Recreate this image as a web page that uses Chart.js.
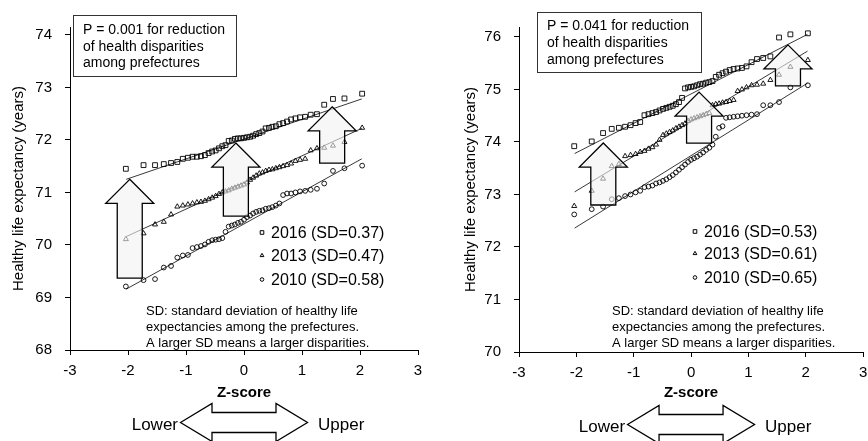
<!DOCTYPE html>
<html>
<head>
<meta charset="utf-8">
<script src="https://cdn.jsdelivr.net/npm/chart.js@4.4.1/dist/chart.umd.min.js"></script>
<style>
  html, body { margin: 0; padding: 0; background: #fff; }
  #wrap { position: relative; width: 868px; height: 441px; overflow: hidden; }
  .panel { position: absolute; top: 0; width: 434px; height: 441px; }
</style>
</head>
<body>
<div id="wrap">
  <div class="panel" style="left:0"><canvas id="left" width="434" height="441"></canvas></div>
  <div class="panel" style="left:434px"><canvas id="right" width="434" height="441"></canvas></div>
</div>
<script>
// normal quantile of each prefecture's rank (47 prefectures)
const zScores = [-2.037, -1.732, -1.534, -1.383, -1.258, -1.150, -1.055, -0.967, -0.887, -0.812,
  -0.742, -0.674, -0.610, -0.549, -0.489, -0.431, -0.374, -0.319, -0.264, -0.210, -0.157, -0.105,
  -0.052, 0, 0.052, 0.105, 0.157, 0.210, 0.264, 0.319, 0.374, 0.431, 0.489, 0.549, 0.610, 0.674,
  0.742, 0.812, 0.887, 0.967, 1.055, 1.150, 1.258, 1.383, 1.534, 1.732, 2.037];

const years = ['2016', '2013', '2010'];
const leftSD = ['0.37', '0.47', '0.58'];
const rightSD = ['0.53', '0.61', '0.65'];

// left panel: healthy life expectancy (years)
const left2016 = [71.45, 71.52, 71.52, 71.54, 71.56, 71.58, 71.64, 71.66, 71.68, 71.68, 71.69, 71.71,
  71.75, 71.78, 71.80, 71.84, 71.88, 71.90, 71.98, 71.99, 72.02, 72.03, 72.03, 72.04, 72.05, 72.06,
  72.08, 72.11, 72.13, 72.16, 72.22, 72.23, 72.25, 72.26, 72.30, 72.32, 72.35, 72.39, 72.41, 72.43,
  72.44, 72.48, 72.49, 72.67, 72.78, 72.79, 72.88];
const left2013 = [70.11, 70.22, 70.39, 70.44, 70.58, 70.73, 70.75, 70.77, 70.79, 70.81, 70.82, 70.84,
  70.87, 70.90, 70.93, 70.97, 71.00, 71.02, 71.04, 71.07, 71.09, 71.11, 71.13, 71.15, 71.19, 71.24,
  71.28, 71.32, 71.36, 71.38, 71.41, 71.43, 71.44, 71.46, 71.48, 71.50, 71.52, 71.55, 71.60, 71.62,
  71.64, 71.80, 71.84, 71.85, 71.89, 71.96, 72.23];
const left2010 = [69.21, 69.33, 69.35, 69.57, 69.60, 69.76, 69.80, 69.81, 69.94, 69.96, 69.98, 70.01,
  70.06, 70.09, 70.10, 70.11, 70.13, 70.25, 70.35, 70.37, 70.39, 70.42, 70.44, 70.48, 70.53, 70.56,
  70.60, 70.63, 70.65, 70.66, 70.69, 70.70, 70.72, 70.75, 70.79, 70.95, 70.98, 70.98, 71.00, 71.02,
  71.03, 71.05, 71.07, 71.17, 71.41, 71.46, 71.51];

// right panel
const right2016 = [73.92, 74.01, 74.17, 74.25, 74.27, 74.29, 74.32, 74.36, 74.38, 74.51, 74.53, 74.55,
  74.57, 74.60, 74.63, 74.65, 74.67, 74.69, 74.72, 74.76, 74.84, 75.02, 75.04, 75.05, 75.06, 75.08,
  75.10, 75.11, 75.13, 75.14, 75.16, 75.24, 75.28, 75.31, 75.34, 75.37, 75.39, 75.40, 75.41, 75.44,
  75.52, 75.58, 75.60, 75.63, 75.99, 76.05, 76.07];
const right2013 = [72.78, 73.07, 73.30, 73.54, 73.58, 73.73, 73.75, 73.77, 73.81, 73.83, 73.87, 73.90,
  73.95, 74.04, 74.13, 74.16, 74.19, 74.22, 74.26, 74.29, 74.32, 74.35, 74.40, 74.43, 74.45, 74.47,
  74.49, 74.51, 74.53, 74.55, 74.70, 74.72, 74.73, 74.75, 74.76, 74.78, 74.80, 74.97, 75.00, 75.04,
  75.08, 75.09, 75.11, 75.18, 75.28, 75.43, 75.56];
const right2010 = [72.62, 72.72, 72.77, 72.91, 72.93, 72.97, 73.00, 73.04, 73.07, 73.14, 73.15, 73.17,
  73.21, 73.23, 73.26, 73.29, 73.33, 73.37, 73.42, 73.47, 73.52, 73.57, 73.62, 73.66, 73.69, 73.72,
  73.76, 73.80, 73.85, 73.89, 73.95, 74.10, 74.27, 74.30, 74.46, 74.47, 74.48, 74.49, 74.50, 74.51,
  74.52, 74.53, 74.70, 74.70, 74.76, 75.04, 75.08];

// linear trend lines (values at both ends)
const fitEnds = [-2.03, 2.03];
const leftFit2016 = [71.25, 72.78];
const leftFit2013 = [70.16, 72.22];
const leftFit2010 = [69.16, 71.64];
const rightFit2016 = [73.78, 76.05];
const rightFit2013 = [73.05, 75.73];
const rightFit2010 = [72.36, 75.12];

// block arrows (z position, from, to)
const leftArrowZ = [-1.97, -0.14, 1.52];
const leftArrowFrom = [69.37, 70.55, 71.56];
const leftArrowTo = [71.25, 71.94, 72.63];
const rightArrowZ = [-1.53, 0.14, 1.69];
const rightArrowFrom = [72.80, 73.98, 75.07];
const rightArrowTo = [73.98, 74.95, 75.85];

const xTicks = [-3, -2, -1, 0, 1, 2, 3];
const leftYTicks = [68, 69, 70, 71, 72, 73, 74];
const rightYTicks = [70, 71, 72, 73, 74, 75, 76];

const FONT = "'Liberation Sans', Arial, sans-serif";
const markerStyles = ['rect', 'triangle', 'circle'];
const markerRadius = [3.4, 2.9, 2.4];
const noteLines = ['SD: standard deviation of healthy life',
  'expectancies among the prefectures.',
  'A larger SD means a larger disparities.'];

function upArrow(ctx, cx, yTop, yBot) {
  const head = 24, headHalf = 24, shaft = 12.5;
  ctx.beginPath();
  ctx.moveTo(cx, yTop);
  ctx.lineTo(cx + headHalf, yTop + head);
  ctx.lineTo(cx + shaft, yTop + head);
  ctx.lineTo(cx + shaft, yBot);
  ctx.lineTo(cx - shaft, yBot);
  ctx.lineTo(cx - shaft, yTop + head);
  ctx.lineTo(cx - headHalf, yTop + head);
  ctx.closePath();
  ctx.fill();
  ctx.stroke();
}

function sideArrow(ctx, cx, cy) {
  const half = 63.5, body = 32, headH = 19, bodyH = 10;
  ctx.beginPath();
  ctx.moveTo(cx - half, cy);
  ctx.lineTo(cx - body, cy - headH);
  ctx.lineTo(cx - body, cy - bodyH);
  ctx.lineTo(cx + body, cy - bodyH);
  ctx.lineTo(cx + body, cy - headH);
  ctx.lineTo(cx + half, cy);
  ctx.lineTo(cx + body, cy + headH);
  ctx.lineTo(cx + body, cy + bodyH);
  ctx.lineTo(cx - body, cy + bodyH);
  ctx.lineTo(cx - body, cy + headH);
  ctx.closePath();
  ctx.fillStyle = '#fff';
  ctx.fill();
  ctx.stroke();
}

function makeDecor(cfg) {
  return {
    id: 'decor',
    afterDatasetsDraw(chart) {
      const {ctx, scales: {x, y}} = chart;
      ctx.save();
      ctx.fillStyle = 'rgba(242,242,242,0.6)';
      ctx.strokeStyle = '#000';
      ctx.lineWidth = 1.3;
      cfg.arrowZ.forEach((z, i) => {
        upArrow(ctx, x.getPixelForValue(z), y.getPixelForValue(cfg.arrowTo[i]), y.getPixelForValue(cfg.arrowFrom[i]));
      });
      ctx.restore();
    },
    afterDraw(chart) {
      const {ctx, scales: {x}} = chart;
      ctx.save();
      // p-value box
      const b = cfg.box;
      ctx.fillStyle = '#fff';
      ctx.fillRect(b[0], b[1], b[2], b[3]);
      ctx.strokeStyle = '#333';
      ctx.lineWidth = 1;
      ctx.strokeRect(b[0] + 0.5, b[1] + 0.5, b[2], b[3]);
      ctx.fillStyle = '#000';
      ctx.font = '14px ' + FONT;
      ctx.textAlign = 'left';
      ctx.textBaseline = 'alphabetic';
      ['P = ' + cfg.p + ' for reduction', 'of health disparities', 'among prefectures'].forEach((t, i) => {
        ctx.fillText(t, b[0] + 10, cfg.boxBase[i]);
      });
      // legend
      ctx.font = '16px ' + FONT;
      years.forEach((yr, i) => {
        ctx.fillStyle = '#000';
        ctx.fillText(yr + ' (SD=' + cfg.sd[i] + ')', cfg.legendX + 9, cfg.legendBase[i]);
        ctx.strokeStyle = '#000';
        ctx.fillStyle = '#fff';
        ctx.lineWidth = 1;
        Chart.helpers.drawPoint(ctx, {pointStyle: markerStyles[i], radius: markerRadius[i] * 0.75, rotation: 0, borderWidth: 1},
          cfg.legendX, cfg.legendBase[i] - 5.5);
      });
      // SD note
      ctx.fillStyle = '#000';
      ctx.font = '13px ' + FONT;
      noteLines.forEach((t, i) => ctx.fillText(t, cfg.noteX, 315 + i * 16));
      // Lower / Upper arrow
      const cx = x.getPixelForValue(0);
      ctx.strokeStyle = '#000';
      ctx.lineWidth = 1.3;
      sideArrow(ctx, cx, cfg.arrowY);
      ctx.fillStyle = '#000';
      ctx.font = '17px ' + FONT;
      ctx.textAlign = 'right';
      ctx.fillText('Lower', cx - 66, cfg.arrowY + 7.5);
      ctx.textAlign = 'left';
      ctx.fillText('Upper', cx + 74, cfg.arrowY + 7.5);
      ctx.restore();
    }
  };
}

function makePanel(id, cfg) {
  const series = [cfg.s2016, cfg.s2013, cfg.s2010];
  const fits = [cfg.f2016, cfg.f2013, cfg.f2010];
  const datasets = [];
  series.forEach((vals, i) => {
    datasets.push({
      label: years[i],
      data: zScores.map((z, k) => ({x: z, y: vals[k]})),
      pointStyle: markerStyles[i],
      pointRadius: markerRadius[i],
      pointBackgroundColor: 'rgba(255,255,255,0)',
      pointBorderColor: '#000',
      pointBorderWidth: 0.9,
      showLine: false
    });
  });
  fits.forEach((f, i) => {
    datasets.push({
      label: years[i] + ' trend',
      data: fitEnds.map((z, k) => ({x: z, y: f[k]})),
      showLine: true,
      borderColor: '#222',
      borderWidth: 0.9,
      pointRadius: 0
    });
  });

  new Chart(document.getElementById(id), {
    type: 'scatter',
    data: {datasets},
    options: {
      responsive: false,
      animation: false,
      layout: {padding: {top: 27, right: cfg.padRight, left: 0, bottom: 0}},
      plugins: {legend: {display: false}, tooltip: {enabled: false}},
      scales: {
        x: {
          type: 'linear', min: -3, max: 3,
          afterBuildTicks: s => { s.ticks = xTicks.map(v => ({value: v})); },
          afterFit: s => { s.height = cfg.xHeight; s.paddingLeft = 0; s.paddingRight = 0; },
          grid: {drawOnChartArea: false, drawTicks: true, tickLength: 5, tickColor: '#000'},
          border: {color: '#000', width: 1},
          ticks: {color: '#000', font: {family: FONT, size: 15}, padding: 7, maxRotation: 0},
          title: {display: true, text: 'Z-score', color: '#000', font: {family: FONT, size: 15, weight: 'bold'}, padding: {top: 0, bottom: 39}}
        },
        y: {
          type: 'linear', min: cfg.yMin, max: cfg.yMax,
          afterBuildTicks: s => { s.ticks = cfg.yTicks.map(v => ({value: v})); },
          afterFit: s => { s.width = cfg.yWidth; },
          grid: {drawOnChartArea: false, drawTicks: true, tickLength: 5, tickColor: '#000'},
          border: {color: '#000', width: 1},
          ticks: {color: '#000', font: {family: FONT, size: 15}, padding: 13},
          title: {display: true, text: 'Healthy life expectancy (years)', color: '#000', font: {family: FONT, size: 15}, padding: {top: cfg.titlePad, bottom: 0}}
        }
      }
    },
    plugins: [makeDecor(cfg)]
  });
}

makePanel('left', {
  s2016: left2016, s2013: left2013, s2010: left2010,
  f2016: leftFit2016, f2013: leftFit2013, f2010: leftFit2010,
  arrowZ: leftArrowZ, arrowFrom: leftArrowFrom, arrowTo: leftArrowTo,
  yMin: 68, yMax: 74.15, yTicks: leftYTicks,
  yWidth: 70, xHeight: 91, padRight: 16, titlePad: 10,
  p: '0.001', sd: leftSD,
  box: [73, 15, 163, 61], boxBase: [34, 51, 67],
  legendX: 262, legendBase: [238, 261, 285],
  noteX: 146, arrowY: 422.5
});

makePanel('right', {
  s2016: right2016, s2013: right2013, s2010: right2010,
  f2016: rightFit2016, f2013: rightFit2013, f2010: rightFit2010,
  arrowZ: rightArrowZ, arrowFrom: rightArrowFrom, arrowTo: rightArrowTo,
  yMin: 70, yMax: 76.19, yTicks: rightYTicks,
  yWidth: 85, xHeight: 89, padRight: 1, titlePad: 28,
  p: '0.041', sd: rightSD,
  box: [103, 12, 164, 60], boxBase: [30, 47, 64],
  legendX: 261, legendBase: [237, 259, 283],
  noteX: 178, arrowY: 424.5
});
</script>
</body>
</html>
